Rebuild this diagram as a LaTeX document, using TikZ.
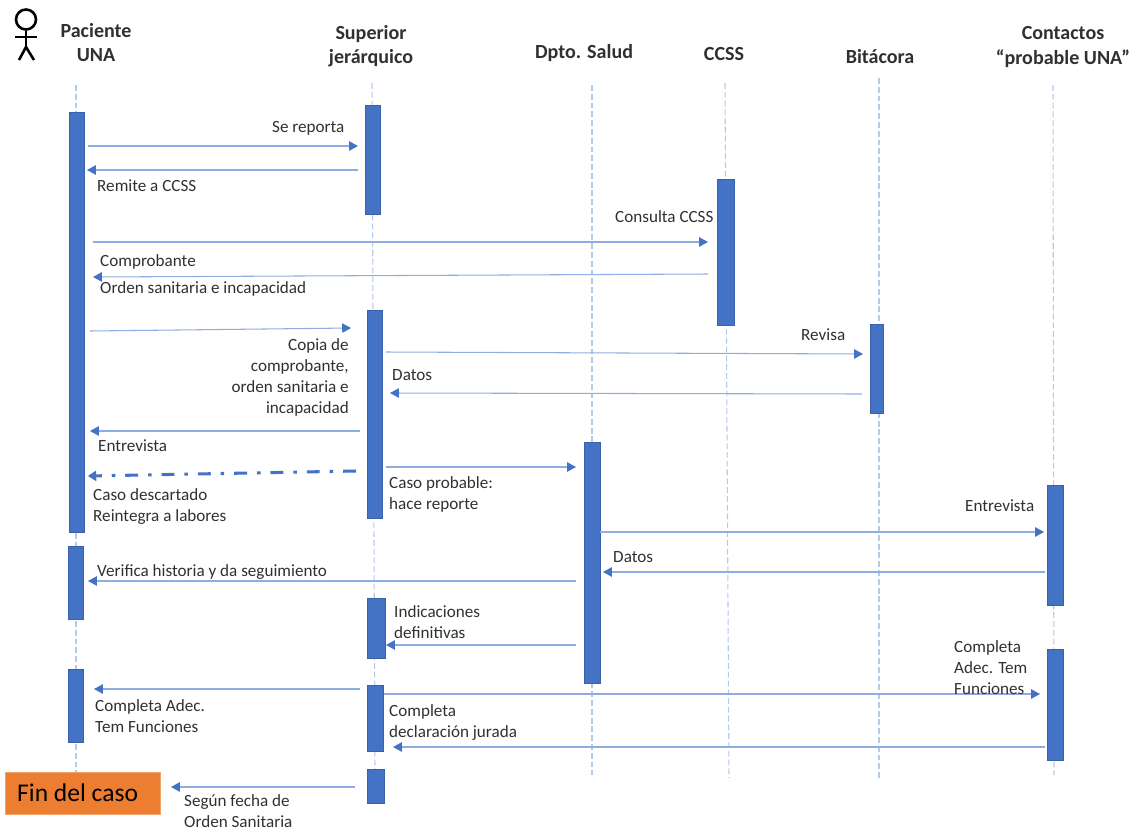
\documentclass[tikz,border=0pt]{standalone}
\usepackage{fontspec}
\setmainfont{Carlito}
\usetikzlibrary{arrows.meta}
\definecolor{barblue}{HTML}{4472C4}
\definecolor{linkblue}{HTML}{8FADE2}
\definecolor{lifeblue}{HTML}{B4CAEC}
\definecolor{finorange}{HTML}{ED7D31}
\definecolor{inktext}{HTML}{303030}
\tikzset{
  bar/.style={draw=barblue!85!black,fill=barblue,line width=.5pt,inner sep=0pt},
  msg/.style={line width=.9pt,linkblue,-{Triangle[length=7.5pt,width=8pt,color=barblue,fill=barblue]}},
  lifeline/.style={draw=lifeblue,line width=.9pt,dash pattern=on 5pt off 2.5pt},
  lbl/.style={font=\fontsize{14.6}{17.9}\selectfont,text=inktext,inner sep=0pt,align=left,anchor=west},
  hdr/.style={font=\fontsize{17.1}{20.5}\selectfont\bfseries,text=inktext,inner sep=0pt,align=center}
}
\begin{document}
\begin{tikzpicture}[x=0.03cm,y=-0.03cm]
  \useasboundingbox (0,0) rectangle (1136,832);
  % lifelines
  \coordinate (pacTop) at (76,85);
  \coordinate (supTop) at (372,83);
  \coordinate (dptTop) at (592,85);
  \coordinate (cssTop) at (725,83);
  \coordinate (bitTop) at (879,78);
  \coordinate (conTop) at (1053,85);
  \coordinate (pacEnd) at (76,772);
  \coordinate (supEnd) at (375,770);
  \coordinate (dptEnd) at (592,775);
  \coordinate (cssEnd) at (729,778);
  \coordinate (bitEnd) at (879,778);
  \coordinate (conEnd) at (1054,775);
  \draw [lifeline] (pacTop) -- (pacEnd);
  \draw [lifeline] (supTop) -- (supEnd);
  \draw [lifeline] (dptTop) -- (dptEnd);
  \draw [lifeline] (cssTop) -- (cssEnd);
  \draw [lifeline] (bitTop) -- (bitEnd);
  \draw [lifeline] (conTop) -- (conEnd);
  % activation bars
  \node [bar,minimum width=0.45cm,minimum height=12.6cm] (pacA) at (76.5,322) {};
  \node [bar,minimum width=0.45cm,minimum height=2.19cm] (pacB) at (75.5,582.5) {};
  \node [bar,minimum width=0.45cm,minimum height=2.19cm] (pacC) at (75.5,705.5) {};
  \node [bar,minimum width=0.45cm,minimum height=3.27cm] (supA) at (372.5,159.5) {};
  \node [bar,minimum width=0.45cm,minimum height=6.24cm] (supB) at (374.5,414) {};
  \node [bar,minimum width=0.54cm,minimum height=1.8cm] (supC) at (376,628) {};
  \node [bar,minimum width=0.48cm,minimum height=1.98cm] (supD) at (375,718) {};
  \node [bar,minimum width=0.51cm,minimum height=1.02cm] (supE) at (375.5,786) {};
  \node [bar,minimum width=0.48cm,minimum height=7.23cm] (dptA) at (592,562.5) {};
  \node [bar,minimum width=0.51cm,minimum height=4.38cm] (cssA) at (725.5,252.5) {};
  \node [bar,minimum width=0.39cm,minimum height=2.67cm] (bitA) at (876.5,368.5) {};
  \node [bar,minimum width=0.48cm,minimum height=3.6cm] (conA) at (1055,545) {};
  \node [bar,minimum width=0.48cm,minimum height=3.33cm] (conB) at (1055,704.5) {};
  % end box
  \node [fill=finorange,draw=finorange!70!white,line width=.4pt,minimum width=4.65cm,minimum height=1.26cm,inner sep=0pt] (fin) at (82.5,793) {};
  \node [font=\fontsize{21.8}{26}\selectfont,text=black,inner sep=0pt,anchor=west] (finText) at (17,793) {Fin del caso};
  % actor
  \coordinate (headC) at (26,19.5);
  \coordinate (neck) at (26,30.5);
  \coordinate (hip) at (26,47);
  \coordinate (armL) at (15,37);
  \coordinate (armR) at (37,37);
  \coordinate (legL) at (19,60);
  \coordinate (legR) at (34,60);
  \draw [line width=2.2pt] (headC) circle (10);
  \draw [line width=2.2pt] (neck) -- (hip);
  \draw [line width=2.2pt] (armL) -- (armR);
  \draw [line width=2.2pt] (legL) -- (hip) -- (legR);
  % headers
  \node [hdr] (hPac) at (96,42.5) {Paciente\\UNA};
  \node [hdr] (hSup) at (371,46) {Superior\\jerárquico};
  \node [hdr] (hDpt) at (584,53) {Dpto. Salud};
  \node [hdr] (hCss) at (724,54) {CCSS};
  \node [hdr] (hBit) at (880,57) {Bitácora};
  \node [hdr] (hCon) at (1063,47) {Contactos\\“probable UNA”};
  % messages
  \coordinate (m1a) at (88,146);   \coordinate (m1b) at (358,146);
  \coordinate (m2a) at (358,170);  \coordinate (m2b) at (87,170);
  \coordinate (m3a) at (93,242);   \coordinate (m3b) at (708,242);
  \coordinate (m4a) at (708,274);  \coordinate (m4b) at (93,277);
  \coordinate (m5a) at (90,331);   \coordinate (m5b) at (351,328);
  \coordinate (m6a) at (386,352);  \coordinate (m6b) at (863,354);
  \coordinate (m7a) at (862,394);  \coordinate (m7b) at (390,393);
  \coordinate (m8a) at (360,431);  \coordinate (m8b) at (90,431);
  \coordinate (m9a) at (356,471);  \coordinate (m9b) at (88,476);
  \coordinate (m10a) at (386,467); \coordinate (m10b) at (576,467);
  \coordinate (m11a) at (600,532); \coordinate (m11b) at (1044,532);
  \coordinate (m12a) at (1045,572); \coordinate (m12b) at (603,572);
  \coordinate (m13a) at (576,581); \coordinate (m13b) at (88,581);
  \coordinate (m14a) at (576,645); \coordinate (m14b) at (386,645);
  \coordinate (m15a) at (360,689); \coordinate (m15b) at (94,689);
  \coordinate (m16a) at (384,694); \coordinate (m16b) at (1040,694);
  \coordinate (m17a) at (1045,747); \coordinate (m17b) at (393,747);
  \coordinate (m18a) at (355,787); \coordinate (m18b) at (171,787);
  \draw [msg] (m1a) -- (m1b);
  \draw [msg] (m2a) -- (m2b);
  \draw [msg] (m3a) -- (m3b);
  \draw [msg] (m4a) -- (m4b);
  \draw [msg] (m5a) -- (m5b);
  \draw [msg] (m6a) -- (m6b);
  \draw [msg] (m7a) -- (m7b);
  \draw [msg] (m8a) -- (m8b);
  \draw [barblue,line width=2.6pt,dash pattern=on 11pt off 8.5pt on 3pt off 8.5pt,-{Triangle[length=7pt,width=9pt,fill=barblue,line width=.5pt]}] (m9a) -- (m9b); % caso descartado
  \draw [msg] (m10a) -- (m10b);
  \draw [msg] (m11a) -- (m11b);
  \draw [msg] (m12a) -- (m12b);
  \draw [msg] (m13a) -- (m13b);
  \draw [msg] (m14a) -- (m14b);
  \draw [msg] (m15a) -- (m15b);
  \draw [msg] (m16a) -- (m16b);
  \draw [msg] (m17a) -- (m17b);
  \draw [msg] (m18a) -- (m18b);
  % labels
  \node [lbl] (tReporta) at (272,128) {Se reporta};
  \node [lbl] (tRemite) at (97,186) {Remite a CCSS};
  \node [lbl] (tConsulta) at (615,217) {Consulta CCSS};
  \node [lbl] (tCompro) at (100,262) {Comprobante};
  \node [lbl] (tOrden) at (100,289) {Orden sanitaria e incapacidad};
  \node [lbl,align=right,anchor=east] (tCopia) at (349,377.5) {Copia de\\comprobante,\\orden sanitaria e\\incapacidad};
  \node [lbl] (tRevisa) at (801,335) {Revisa};
  \node [lbl] (tDatosA) at (392,375) {Datos};
  \node [lbl] (tEntrevA) at (98,446) {Entrevista};
  \node [lbl] (tDescarte) at (93,506.5) {Caso descartado\\Reintegra a labores};
  \node [lbl] (tProbable) at (389,494.5) {Caso probable:\\hace reporte};
  \node [lbl] (tEntrevB) at (965,506) {Entrevista};
  \node [lbl] (tDatosB) at (613,557) {Datos};
  \node [lbl] (tVerifica) at (97,572) {Verifica historia y da seguimiento};
  \node [lbl] (tIndica) at (394,622.5) {Indicaciones\\definitivas};
  \node [lbl] (tAdecC) at (954,667.5) {Completa\\Adec. Tem\\Funciones};
  \node [lbl] (tAdecP) at (95,716.5) {Completa Adec.\\Tem Funciones};
  \node [lbl] (tJurada) at (389,722.5) {Completa\\declaración jurada};
  \node [lbl] (tFecha) at (184,811.5) {Según fecha de\\Orden Sanitaria};
\end{tikzpicture}
\end{document}
